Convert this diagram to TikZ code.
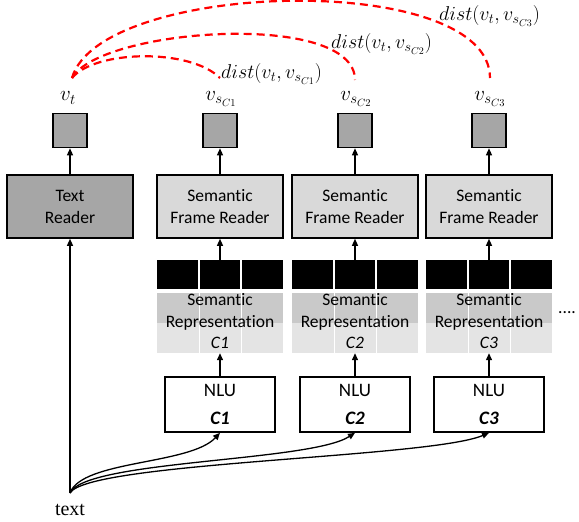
\RequirePackage{fix-cm}
\documentclass[tikz,border=0pt]{standalone}
\usepackage[no-math]{fontspec}
\setmainfont{Carlito}[Ligatures=NoCommon]
\newfontfamily\timesfont{Liberation Serif}
\usetikzlibrary{arrows.meta}
\definecolor{dgray}{HTML}{A6A6A6}
\definecolor{lgray}{HTML}{D9D9D9}
\definecolor{rowa}{HTML}{C9C9C9}
\definecolor{rowb}{HTML}{E4E4E4}
\begin{document}
\begin{tikzpicture}[x=1pt,y=-1pt,
  box/.style={draw=black, line width=1.6pt, minimum width=126pt, minimum height=63pt,
    inner sep=0pt, align=center, font=\fontsize{17.5}{22}\selectfont},
  vec/.style={draw=black, line width=1.6pt, fill=dgray, minimum width=34pt, minimum height=34pt, inner sep=0pt},
  nlubox/.style={draw=black, line width=1.6pt, fill=white, minimum width=110pt, minimum height=55pt,
    inner sep=0pt, align=center, font=\fontsize{19}{28}\selectfont},
  arr/.style={line width=1.3pt, -{Triangle[length=7pt,width=6pt]}},
  vlab/.style={font=\fontsize{21}{24}\selectfont, inner sep=0pt},
  dlab/.style={font=\fontsize{20}{22}\selectfont, inner sep=0pt, anchor=west},
  reddash/.style={draw=red, line width=2.2pt, dash pattern=on 8pt off 5pt}
]
\useasboundingbox (0,0) rectangle (579,522);

% text reader column
\node[box, fill=dgray] (tr) at (70,206.5) {Text\\Reader};
\node[vec] (vt) at (70,130.5) {};
\node[vlab] (vtl) at (68,98) {$v_t$};
\draw[arr] (tr.north) -- (vt.south);

\foreach \c/\i in {220/1,355/2,489/3}{
  \node[box, fill=lgray] (fr\i) at (\c,206.5) {Semantic\\Frame Reader};
  \node[vec] (v\i) at (\c,130.5) {};
  \node[vlab] (vl\i) at (\c+1,99) {$v_{s_{C\i}}$};
  \draw[arr] (fr\i.north) -- (v\i.south);
  % semantic representation block
  \fill[black] (\c-63,260) rectangle (\c+63,289);
  \fill[rowa] (\c-63,293) rectangle (\c+63,323);
  \fill[rowb] (\c-63,323) rectangle (\c+63,353);
  \draw[white, line width=1.4pt] (\c-21,260) -- (\c-21,289) (\c+21,260) -- (\c+21,289);
  \draw[white, line width=0.8pt] (\c-21,293) -- (\c-21,353) (\c+21,293) -- (\c+21,353);
  \node[minimum width=126pt, minimum height=93pt, inner sep=0pt] (rep\i) at (\c,306.5) {};
  \node[align=center, inner sep=0pt, font=\fontsize{17.5}{21.5}\selectfont] (rept\i) at (\c,321.5)
    {Semantic\\Representation\\\textit{C\i}};
  \draw[arr] (rep\i.north) -- (fr\i.south);
  \node[nlubox] (nlu\i) at (\c,404.5) {NLU\\\textbf{\textit{C\i}}};
  \draw[arr] (nlu\i.north) -- (rep\i.south);
}

\node[anchor=west, inner sep=0pt, font=\fontsize{17.5}{20}\selectfont] (dots) at (558,313) {....};

% text input
\coordinate (ts) at (70,493);
\node[inner sep=0pt, font=\timesfont\fontsize{20}{22}\selectfont] (txt) at (70,510) {text};
\draw[arr] (ts) -- (tr.south);
\draw[arr] (ts) .. controls (82,460) and (190,465) .. (nlu1.south);
\draw[arr] (ts) .. controls (85,460) and (310,462) .. (nlu2.south);
\draw[arr] (ts) .. controls (88,462) and (430,458) .. (nlu3.south);

% distances
\coordinate (vs) at (72,78);
\coordinate (e1) at (220,78);
\coordinate (e2) at (355,80);
\coordinate (e3) at (490,78);
\draw[reddash] (vs) .. controls (95,50) and (190,48) .. (e1);
\draw[reddash] (vs) .. controls (100,28) and (355,10) .. (e2);
\draw[reddash] (vs) .. controls (100,-20) and (490,-30) .. (e3);
\node[dlab] (d1) at (221,74) {$dist(v_t,v_{s_{C1}})$};
\node[dlab] (d2) at (331,44) {$dist(v_t,v_{s_{C2}})$};
\node[dlab] (d3) at (439,16) {$dist(v_t,v_{s_{C3}})$};
\end{tikzpicture}
\end{document}
